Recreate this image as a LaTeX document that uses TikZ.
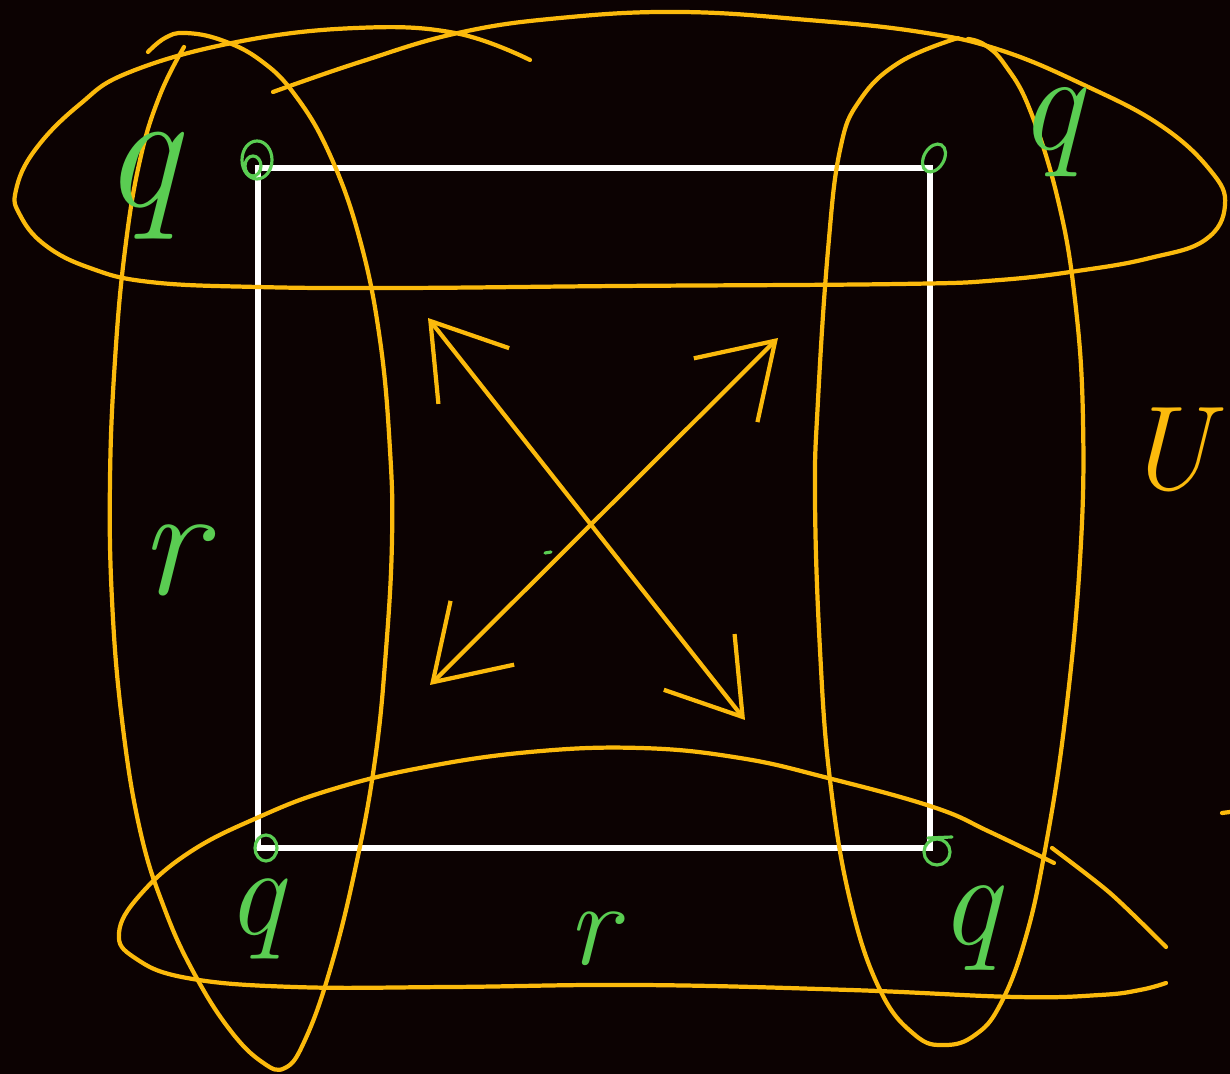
\documentclass[tikz,border=0pt]{standalone}
\usepackage{tikz}
\usetikzlibrary{arrows.meta}
\usepackage{xcolor}
\definecolor{board}{HTML}{0C0202}
\definecolor{penyellow}{HTML}{FBBA0C}
\definecolor{pengreen}{HTML}{5ACD52}

\begin{document}
\begin{tikzpicture}[x=0.01cm, y=-0.01cm,
    hlpen/.style={draw=penyellow, line width=1.2pt, line cap=round, line join=round},
    inkgreen/.style={draw=pengreen, line width=0.9pt, line cap=round},
    sqline/.style={draw=white, line width=1.7pt},
    biarrow/.style={hlpen, {Straight Barb[length=7mm, width=9mm]}-{Straight Barb[length=7mm, width=9mm]}},
    glabel/.style={text=pengreen, anchor=base, inner sep=0pt},
  ]
  % board
  \fill[board] (0,0) rectangle (1230,1074);
  \useasboundingbox (0,0) rectangle (1230,1074);

  % square
  \coordinate (sqtl) at (258,168);
  \coordinate (sqtr) at (930,168);
  \coordinate (sqbr) at (930,848);
  \coordinate (sqbl) at (258,848);
  \draw[sqline] (sqtl) -- (sqtr) -- (sqbr) -- (sqbl) -- cycle;

  % top loop
  \draw[hlpen] plot[smooth, tension=0.7] coordinates {(273,92) (360,62) (458,33) (560,18) (680,12) (808,20)
    (920,32) (1000,50) (1084,85) (1160,125) (1210,170) (1225,205) (1205,240) (1150,258) (1084,270)
    (1000,280) (900,284) (620,286) (400,288) (257,287) (150,282) (90,268) (45,245) (20,215) (16,190)
    (35,150) (79,105) (130,72) (237,42) (356,28) (455,33) (530,60)};
  % left loop
  \draw[hlpen] plot[smooth, tension=0.7] coordinates {(148,52) (165,38) (185,33) (221,40) (260,60) (295,95)
    (330,155) (360,240) (380,340) (390,450) (392,540) (386,650) (375,760) (355,870) (330,970)
    (305,1040) (285,1068) (262,1062) (230,1030) (195,975) (165,910) (140,830) (122,720) (112,600)
    (110,480) (115,360) (125,250) (140,160) (160,95) (184,47)};
  % right loop
  \draw[hlpen] plot[smooth, tension=0.7] coordinates {(958,38) (900,62) (860,100) (840,150) (828,250)
    (818,400) (815,500) (820,650) (830,780) (850,900) (880,990) (915,1035) (945,1045) (975,1035)
    (1000,1005) (1025,940) (1045,850) (1065,720) (1080,560) (1083,420) (1075,300) (1058,200)
    (1030,110) (1005,65) (985,45) (968,39)};
  % bottom loop
  \draw[hlpen] plot[smooth, tension=0.7] coordinates {(1054,863) (990,832) (933,807) (828,778) (740,758)
    (640,748) (530,752) (420,768) (330,790) (259,817) (190,852) (140,895) (119,933) (135,958)
    (187,978) (294,987) (450,987) (640,985) (850,990) (1016,997) (1100,995) (1140,990) (1166,983)};
  \draw[hlpen] plot[smooth] coordinates {(1052,848) (1110,893) (1166,947)};
  \draw[hlpen] (1222,813) -- (1230,812);

  % arrows
  \coordinate (nw) at (428,318);
  \coordinate (se) at (745,720);
  \coordinate (ne) at (778,338);
  \coordinate (sw) at (430,685);
  \draw[biarrow] (nw) -- (se);
  \draw[biarrow] (ne) -- (sw);

  % corner marks
  \draw[inkgreen] (257,160) ellipse (1.5mm and 1.9mm);
  \draw[inkgreen] (253,166) ellipse (0.8mm and 1mm);
  \draw[inkgreen, rotate around={-30:(934,158)}] (934,158) ellipse (1mm and 1.5mm);
  \draw[inkgreen] (266,848) ellipse (1.1mm and 1.3mm);
  \draw[inkgreen] (937,852) ellipse (1.3mm and 1.3mm);
  \draw[inkgreen] (928,838) -- (952,837);
  \draw[inkgreen] (545,553) -- (551,552);

  % labels
  \node[glabel, font=\fontsize{48}{48}\selectfont\itshape] (qtl) at (140,207) {q};
  \node[glabel, font=\fontsize{40}{40}\selectfont\itshape] (qtr) at (1050,150) {q};
  \node[glabel, font=\fontsize{36}{36}\selectfont\itshape] (qbl) at (255,935) {q};
  \node[glabel, font=\fontsize{38}{38}\selectfont\itshape] (qbr) at (970,945) {q};
  \node[glabel, font=\fontsize{45}{45}\selectfont\itshape] (rleft) at (172,595) {r};
  \node[glabel, font=\fontsize{34}{34}\selectfont\itshape] (rbottom) at (592,965) {r};
  \node[anchor=base, inner sep=0pt, text=penyellow, font=\fontsize{34}{34}\selectfont\itshape] (setu) at (1168,490) {U};
\end{tikzpicture}
\end{document}
